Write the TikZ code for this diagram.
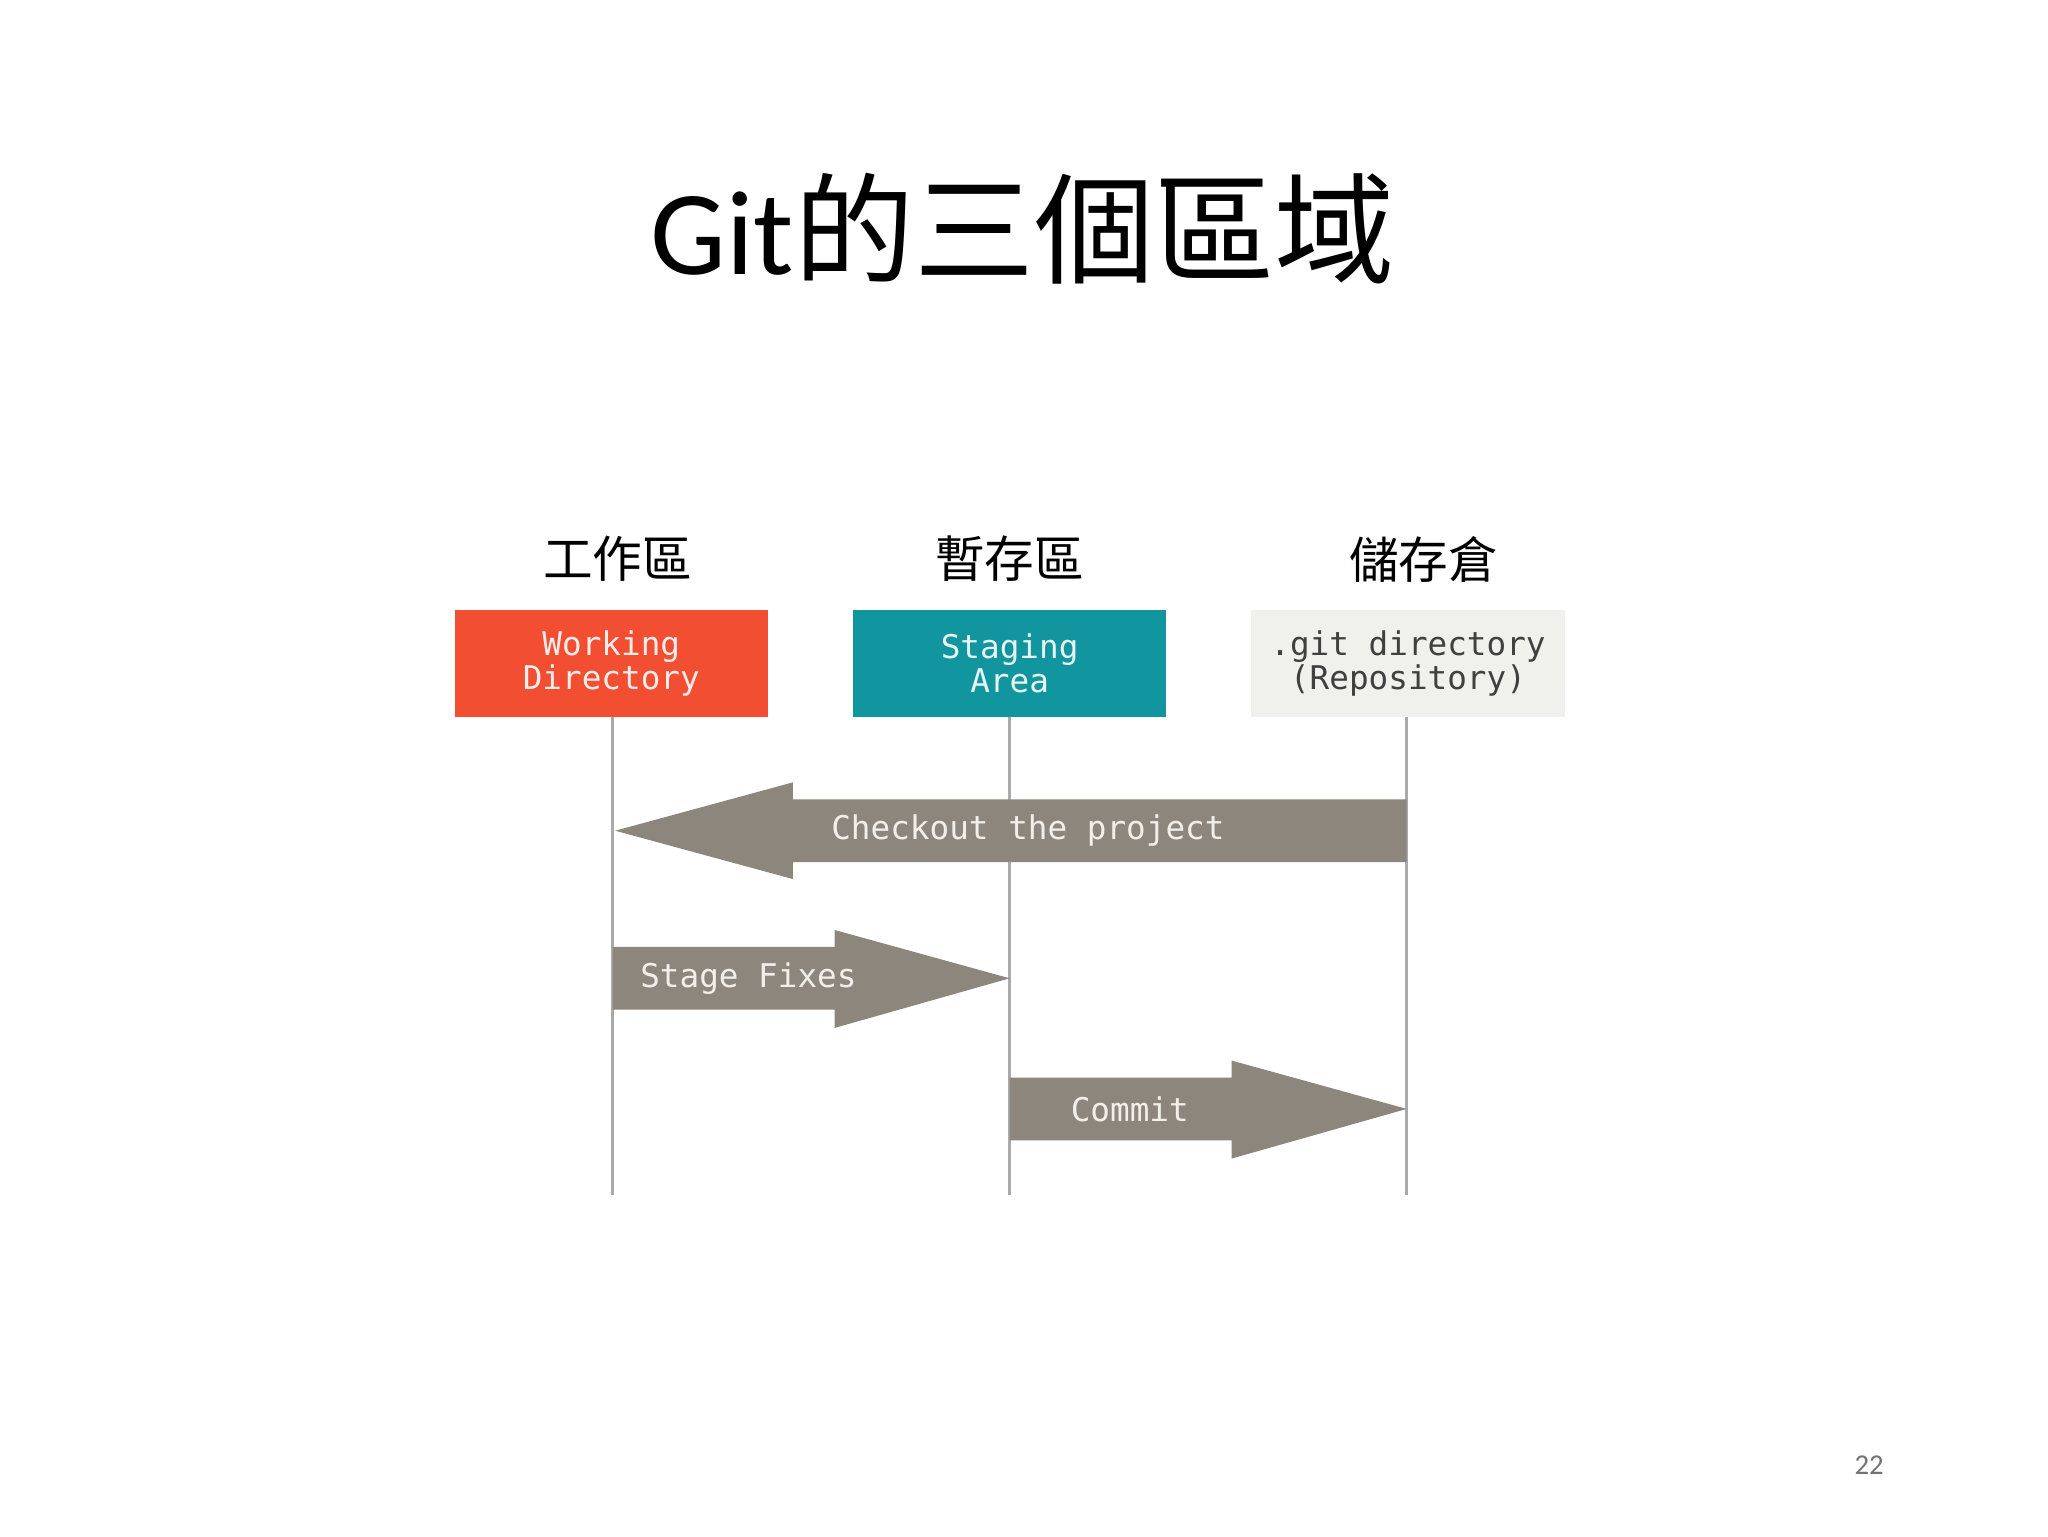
\documentclass[tikz,border=0pt]{standalone}
\usepackage{fontspec}
\setmainfont{Carlito}
\newfontfamily\cjk{Noto Sans CJK TC}
\newfontfamily\monof{DejaVu Sans Mono}
\definecolor{wdred}{HTML}{F14E32}
\definecolor{stteal}{HTML}{11969F}
\definecolor{gitbg}{HTML}{F0F0EC}
\definecolor{arrgray}{HTML}{8D867C}
\definecolor{arrtxt}{HTML}{F2EFEA}
\definecolor{lifeg}{HTML}{AAAAAA}
\tikzset{
  box/.style={minimum width=240pt,minimum height=82pt,inner sep=0pt,align=center,font=\monof\fontsize{25}{30}\selectfont},
  area/.style={font=\cjk\fontsize{38}{40}\selectfont},
  life/.style={draw=lifeg,line width=2pt},
  arr/.style={fill=arrgray},
  atxt/.style={text=arrtxt,font=\monof\fontsize{25}{30}\selectfont}
}
\begin{document}
\begin{tikzpicture}[x=1pt,y=-1pt]
\useasboundingbox[fill=white] (0,0) rectangle (1568,1176);
\node[font=\fontsize{92}{96}\selectfont] (title) at (783,175) {Git{\cjk 的三個區域}};
\node[area] (l1) at (473,428) {工作區};
\node[area] (l2) at (773,428) {暫存區};
\node[area] (l3) at (1090,428) {儲存倉};
\node[box,fill=wdred,text=white!90!wdred] (wd) at (468,508) {Working\\[-4pt]Directory};
\node[box,fill=stteal,text=white!90!stteal] (sa) at (773,508) {Staging\\[-4pt]Area};
\node[box,fill=gitbg,text=black!75] (gd) at (1078,508) {.git directory\\[-4pt](Repository)};
\coordinate (e1) at (469,915);
\coordinate (e2) at (773,915);
\coordinate (e3) at (1077,915);
\draw[life] (469,549) -- (e1);
\draw[life] (773,549) -- (e2);
\draw[life] (1077,549) -- (e3);
% checkout
\fill[arr] (1077,612) -- (607,612) -- (607,599) -- (471,636) -- (607,673) -- (607,660) -- (1077,660) -- cycle;
\node[atxt] (t1) at (787,636) {Checkout the project};
% stage
\fill[arr] (469,725) -- (639,725) -- (639,712) -- (773,749) -- (639,787) -- (639,773) -- (469,773) -- cycle;
\node[atxt] (t2) at (573,749) {Stage Fixes};
% commit
\fill[arr] (773,825) -- (943,825) -- (943,812) -- (1077,849) -- (943,887) -- (943,873) -- (773,873) -- cycle;
\node[atxt] (t3) at (865,849) {Commit};
\node[text=black!55,font=\fontsize{22}{24}\selectfont] (pg) at (1431,1122) {22};
\end{tikzpicture}
\end{document}
